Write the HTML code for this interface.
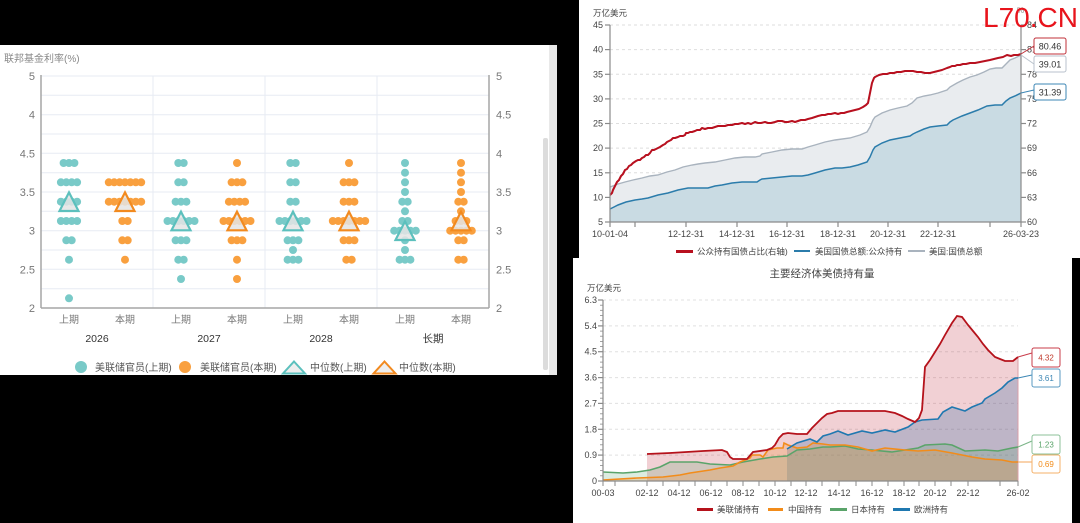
<!DOCTYPE html>
<html><head><meta charset="utf-8"><style>
html,body{margin:0;padding:0;background:#000;}
svg{display:block;}
text{font-family:"Liberation Sans","Noto Sans CJK SC",sans-serif;}
</style></head><body>
<svg width="1080" height="523" viewBox="0 0 1080 523" xmlns="http://www.w3.org/2000/svg">
<defs>
<g id="r1"><circle cx="0" cy="0" r="4"/></g>
<g id="r2"><circle cx="-2.7" cy="0" r="4"/><circle cx="2.7" cy="0" r="4"/></g>
<g id="r3"><circle cx="-5.4" cy="0" r="4"/><circle cx="0" cy="0" r="4"/><circle cx="5.4" cy="0" r="4"/></g>
<g id="r4"><circle cx="-8.1" cy="0" r="4"/><circle cx="-2.7" cy="0" r="4"/><circle cx="2.7" cy="0" r="4"/><circle cx="8.1" cy="0" r="4"/></g>
<g id="r5"><circle cx="-10.8" cy="0" r="4"/><circle cx="-5.4" cy="0" r="4"/><circle cx="0" cy="0" r="4"/><circle cx="5.4" cy="0" r="4"/><circle cx="10.8" cy="0" r="4"/></g>
<g id="r6"><circle cx="-13.5" cy="0" r="4"/><circle cx="-8.1" cy="0" r="4"/><circle cx="-2.7" cy="0" r="4"/><circle cx="2.7" cy="0" r="4"/><circle cx="8.1" cy="0" r="4"/><circle cx="13.5" cy="0" r="4"/></g>
<g id="r7"><circle cx="-16.2" cy="0" r="4"/><circle cx="-10.8" cy="0" r="4"/><circle cx="-5.4" cy="0" r="4"/><circle cx="0" cy="0" r="4"/><circle cx="5.4" cy="0" r="4"/><circle cx="10.8" cy="0" r="4"/><circle cx="16.2" cy="0" r="4"/></g>
<path id="tri" d="M0,-9.3 L9.5,9.3 L-9.5,9.3 Z"/>
</defs>

<rect x="0" y="0" width="1080" height="523" fill="#000"/>

<!-- ================= LEFT PANEL ================= -->
<rect x="0" y="45" width="557" height="330" fill="#fff"/>
<rect x="549" y="45" width="8" height="330" fill="#e9e9e9"/>
<rect x="543" y="138" width="5" height="232" rx="2" fill="#dcdcdc"/>
<text x="4" y="62" font-size="10" fill="#888">联邦基金利率(%)</text>

<!-- grid -->
<g stroke="#e7ebf3" stroke-width="1">
<line x1="41" y1="76" x2="489" y2="76"/>
<line x1="41" y1="95.3" x2="489" y2="95.3"/>
<line x1="41" y1="114.7" x2="489" y2="114.7"/>
<line x1="41" y1="134" x2="489" y2="134"/>
<line x1="41" y1="153.3" x2="489" y2="153.3"/>
<line x1="41" y1="172.7" x2="489" y2="172.7"/>
<line x1="41" y1="192" x2="489" y2="192"/>
<line x1="41" y1="211.3" x2="489" y2="211.3"/>
<line x1="41" y1="230.7" x2="489" y2="230.7"/>
<line x1="41" y1="250" x2="489" y2="250"/>
<line x1="41" y1="269.3" x2="489" y2="269.3"/>
<line x1="41" y1="288.7" x2="489" y2="288.7"/>
<line x1="153" y1="76" x2="153" y2="308"/>
<line x1="265" y1="76" x2="265" y2="308"/>
<line x1="377" y1="76" x2="377" y2="308"/>
</g>
<g stroke="#a6a6a6" stroke-width="1.5" fill="none">
<line x1="41" y1="75" x2="41" y2="308"/>
<line x1="489" y1="75" x2="489" y2="308"/>
<line x1="41" y1="308" x2="489" y2="308"/>
</g>
<g font-size="11" fill="#777" text-anchor="end">
<text x="35" y="80">5</text>
<text x="35" y="157.5">4.5</text>
<text x="35" y="234.7">3</text>
<text x="35" y="196">3.5</text>
<text x="35" y="118.7">4</text>
<text x="35" y="273.5">2.5</text>
<text x="35" y="312">2</text>
</g>
<g font-size="11" fill="#777">
<text x="496" y="80">5</text>
<text x="496" y="118.7">4.5</text>
<text x="496" y="157.5">4</text>
<text x="496" y="196">3.5</text>
<text x="496" y="234.7">3</text>
<text x="496" y="273.5">2.5</text>
<text x="496" y="312">2</text>
</g>
<g font-size="10" fill="#777" text-anchor="middle">
<text x="69" y="323">上期</text><text x="125" y="323">本期</text>
<text x="181" y="323">上期</text><text x="237" y="323">本期</text>
<text x="293" y="323">上期</text><text x="349" y="323">本期</text>
<text x="405" y="323">上期</text><text x="461" y="323">本期</text>
</g>
<g font-size="10.5" fill="#333" text-anchor="middle">
<text x="97" y="342">2026</text><text x="209" y="342">2027</text>
<text x="321" y="342">2028</text><text x="433" y="342">长期</text>
</g>

<!-- dots teal -->
<g fill="#79cac8">
<use href="#r3" x="69" y="163"/><use href="#r4" x="69" y="182.3"/><use href="#r4" x="69" y="201.7"/><use href="#r4" x="69" y="221"/><use href="#r2" x="69" y="240.3"/><use href="#r1" x="69" y="259.7"/><use href="#r1" x="69" y="298.3"/>
<use href="#r2" x="181" y="163"/><use href="#r2" x="181" y="182.3"/><use href="#r3" x="181" y="201.7"/><use href="#r6" x="181" y="221"/><use href="#r3" x="181" y="240.3"/><use href="#r2" x="181" y="259.7"/><use href="#r1" x="181" y="279"/>
<use href="#r2" x="293" y="163"/><use href="#r2" x="293" y="182.3"/><use href="#r2" x="293" y="201.7"/><use href="#r6" x="293" y="221"/><use href="#r3" x="293" y="240.3"/><use href="#r1" x="293" y="250"/><use href="#r3" x="293" y="259.7"/>
<use href="#r1" x="405" y="163"/><use href="#r1" x="405" y="172.7"/><use href="#r1" x="405" y="182.3"/><use href="#r1" x="405" y="192"/><use href="#r2" x="405" y="201.7"/><use href="#r1" x="405" y="211.3"/><use href="#r2" x="405" y="221"/><use href="#r5" x="405" y="230.7"/><use href="#r1" x="405" y="240.3"/><use href="#r1" x="405" y="250"/><use href="#r3" x="405" y="259.7"/>
</g>
<!-- dots orange -->
<g fill="#f9a03f">
<use href="#r7" x="125" y="182.3"/><use href="#r7" x="125" y="201.7"/><use href="#r2" x="125" y="221"/><use href="#r2" x="125" y="240.3"/><use href="#r1" x="125" y="259.7"/>
<use href="#r1" x="237" y="163"/><use href="#r3" x="237" y="182.3"/><use href="#r4" x="237" y="201.7"/><use href="#r6" x="237" y="221"/><use href="#r3" x="237" y="240.3"/><use href="#r1" x="237" y="259.7"/><use href="#r1" x="237" y="279"/>
<use href="#r1" x="349" y="163"/><use href="#r3" x="349" y="182.3"/><use href="#r3" x="349" y="201.7"/><use href="#r7" x="349" y="221"/><use href="#r3" x="349" y="240.3"/><use href="#r2" x="349" y="259.7"/>
<use href="#r1" x="461" y="163"/><use href="#r1" x="461" y="172.7"/><use href="#r1" x="461" y="182.3"/><use href="#r1" x="461" y="192"/><use href="#r2" x="461" y="201.7"/><use href="#r1" x="461" y="211.3"/><use href="#r3" x="461" y="221"/><use href="#r5" x="461" y="230.7"/><use href="#r2" x="461" y="240.3"/><use href="#r2" x="461" y="259.7"/>
</g>
<!-- medians -->
<g fill="#e4e4e4" fill-opacity="0.85" stroke-width="2.2" stroke-linejoin="miter">
<use href="#tri" x="69" y="201.7" stroke="#5cc0bd"/>
<use href="#tri" x="125" y="201.7" stroke="#f28a1f"/>
<use href="#tri" x="181" y="221" stroke="#5cc0bd"/>
<use href="#tri" x="237" y="221" stroke="#f28a1f"/>
<use href="#tri" x="293" y="221" stroke="#5cc0bd"/>
<use href="#tri" x="349" y="221" stroke="#f28a1f"/>
<use href="#tri" x="405" y="230.7" stroke="#5cc0bd"/>
<use href="#tri" x="461" y="221" stroke="#f28a1f"/>
</g>
<!-- legend -->
<circle cx="81" cy="367" r="6" fill="#79cac8"/>
<text x="95" y="371" font-size="10" fill="#555">美联储官员(上期)</text>
<circle cx="185" cy="367" r="6" fill="#f9a03f"/>
<text x="200" y="371" font-size="10" fill="#555">美联储官员(本期)</text>
<path d="M294,361.5 L305,373.5 L283,373.5 Z" fill="#eee" stroke="#5cc0bd" stroke-width="2"/>
<text x="310" y="371" font-size="10" fill="#555">中位数(上期)</text>
<path d="M384.5,361.5 L395.5,373.5 L373.5,373.5 Z" fill="#eee" stroke="#f28a1f" stroke-width="2"/>
<text x="399" y="371" font-size="10" fill="#555">中位数(本期)</text>

<!-- ================= TOP RIGHT PANEL ================= -->
<rect x="579" y="0" width="501" height="258" fill="#fff"/>
<text x="593" y="16" font-size="8.5" fill="#444">万亿美元</text>
<text x="1017" y="13" font-size="8" fill="#888">%</text>
<g stroke="#dedede" stroke-width="1" stroke-dasharray="3,3">
<line x1="610" y1="25" x2="1021" y2="25"/>
<line x1="610" y1="49.6" x2="1021" y2="49.6"/>
<line x1="610" y1="74.3" x2="1021" y2="74.3"/>
<line x1="610" y1="98.9" x2="1021" y2="98.9"/>
<line x1="610" y1="123.5" x2="1021" y2="123.5"/>
<line x1="610" y1="148.1" x2="1021" y2="148.1"/>
<line x1="610" y1="172.8" x2="1021" y2="172.8"/>
<line x1="610" y1="197.4" x2="1021" y2="197.4"/>
</g>
<!-- total area -->
<polygon fill="#e9ecef" points="610,187 618,184 625,182 633,180 642,178 650,176 658,175 667,172 675,170 683,167 692,165 698,164 705,163 715,162 725,160 735,158 745,157 755,157 760,156 762,154 772,152 782,150 792,149 802,149 808,147 815,145 825,142 835,140 850,138 860,135 867,132 870,127 873,120 875,117 882,113 890,110 898,108 907,106 912,103 917,98 924,96 930,95 938,93 947,90 950,87 957,83 963,80 970,77 977,75 984,72 990,69 996,68 1002,68 1006,64 1010,60 1015,58 1021,55 1021,222 610,222"/>
<polygon fill="#c9dbe3" points="610,209 614,207 618,205 626,202 635,200 642,199 648,198 658,195 668,193 678,190 688,188 698,188 708,188 715,186 722,185 732,183 742,182 750,182 757,182 760,180 762,179 772,178 782,177 792,176 802,176 808,175 815,173 825,170 835,168 842,168 850,167 858,165 867,162 870,157 873,150 875,147 882,143 890,140 900,138 910,136 913,134 917,132 924,129 930,127 938,126 947,125 950,122 953,120 962,116 970,113 978,110 987,106 995,105 1002,105 1006,101 1010,98 1015,96 1021,93 1021,222 610,222"/>
<polyline fill="none" stroke="#a9b3be" stroke-width="1.4" points="610,187 618,184 625,182 633,180 642,178 650,176 658,175 667,172 675,170 683,167 692,165 698,164 705,163 715,162 725,160 735,158 745,157 755,157 760,156 762,154 772,152 782,150 792,149 802,149 808,147 815,145 825,142 835,140 850,138 860,135 867,132 870,127 873,120 875,117 882,113 890,110 898,108 907,106 912,103 917,98 924,96 930,95 938,93 947,90 950,87 957,83 963,80 970,77 977,75 984,72 990,69 996,68 1002,68 1006,64 1010,60 1015,58 1021,55"/>
<polyline fill="none" stroke="#2b7cab" stroke-width="1.5" points="610,209 614,207 618,205 626,202 635,200 642,199 648,198 658,195 668,193 678,190 688,188 698,188 708,188 715,186 722,185 732,183 742,182 750,182 757,182 760,180 762,179 772,178 782,177 792,176 802,176 808,175 815,173 825,170 835,168 842,168 850,167 858,165 867,162 870,157 873,150 875,147 882,143 890,140 900,138 910,136 913,134 917,132 924,129 930,127 938,126 947,125 950,122 953,120 962,116 970,113 978,110 987,106 995,105 1002,105 1006,101 1010,98 1015,96 1021,93"/>
<polyline fill="none" stroke="#b8101f" stroke-width="2" stroke-linejoin="round" points="610,195 612,193 613,190 615,186 617,182 619,180 621,176 623,174 625,170 627,169 629,166 631,165 633,163 636,161 638,160 640,160 642,158 644,157 646,155 648,155 650,153 652,150 654,150 656,149 658,148 660,147 663,145 665,144 667,142 669,141 671,140 673,138 675,138 678,137 680,136 683,136 685,135 686,133 688,133 690,132 692,132 695,131 697,130 700,130 702,128 705,129 708,128 712,128 715,127 718,126 721,126 725,126 728,125 732,125 735,124 738,124 742,123 745,124 748,123 751,124 755,122 758,123 761,123 765,122 768,123 771,123 775,122 778,121 782,121 785,122 788,122 792,121 795,122 798,121 801,120 805,120 808,119 812,118 815,117 818,116 822,115 825,115 828,114 831,114 835,113 838,114 841,113 844,113 847,112 851,111 855,110 859,109 863,107 866,105 868,103 870,93 872,83 874,78 875,77 879,75 883,74 887,74 890,73 894,73 897,72 901,72 905,71 909,71 913,71 917,72 921,72 925,73 930,73 934,72 938,71 942,70 947,68 950,67 952,66 955,66 957,65 960,65 963,64 966,64 970,63 975,63 980,62 985,61 990,60 994,59 998,58 1003,57 1007,55 1011,56 1014,55 1018,55 1021,54"/>
<!-- axes -->
<g stroke="#8a8a8a" stroke-width="1.2">
<line x1="610" y1="25" x2="610" y2="222"/>
<line x1="1021" y1="25" x2="1021" y2="222"/>
<line x1="610" y1="222" x2="1021" y2="222"/>
<line x1="605" y1="25" x2="610" y2="25"/><line x1="605" y1="49.6" x2="610" y2="49.6"/><line x1="605" y1="74.3" x2="610" y2="74.3"/><line x1="605" y1="98.9" x2="610" y2="98.9"/><line x1="605" y1="123.5" x2="610" y2="123.5"/><line x1="605" y1="148.1" x2="610" y2="148.1"/><line x1="605" y1="172.8" x2="610" y2="172.8"/><line x1="605" y1="197.4" x2="610" y2="197.4"/><line x1="605" y1="222" x2="610" y2="222"/>
<line x1="1021" y1="25" x2="1026" y2="25"/><line x1="1021" y1="49.6" x2="1026" y2="49.6"/><line x1="1021" y1="74.3" x2="1026" y2="74.3"/><line x1="1021" y1="98.9" x2="1026" y2="98.9"/><line x1="1021" y1="123.5" x2="1026" y2="123.5"/><line x1="1021" y1="148.1" x2="1026" y2="148.1"/><line x1="1021" y1="172.8" x2="1026" y2="172.8"/><line x1="1021" y1="197.4" x2="1026" y2="197.4"/><line x1="1021" y1="222" x2="1026" y2="222"/>
<line x1="610" y1="222" x2="610" y2="227"/><line x1="635" y1="222" x2="635" y2="227"/><line x1="686" y1="222" x2="686" y2="227"/><line x1="737" y1="222" x2="737" y2="227"/><line x1="787" y1="222" x2="787" y2="227"/><line x1="838" y1="222" x2="838" y2="227"/><line x1="888" y1="222" x2="888" y2="227"/><line x1="938" y1="222" x2="938" y2="227"/><line x1="990" y1="222" x2="990" y2="227"/><line x1="1021" y1="222" x2="1021" y2="227"/>
</g>
<g font-size="9" fill="#444" text-anchor="end">
<text x="603" y="28">45</text><text x="603" y="52.6">40</text><text x="603" y="77.3">35</text><text x="603" y="101.9">30</text><text x="603" y="126.5">25</text><text x="603" y="151.1">20</text><text x="603" y="175.8">15</text><text x="603" y="200.4">10</text><text x="603" y="225">5</text>
</g>
<g font-size="9" fill="#444">
<text x="1027" y="28">84</text><text x="1027" y="52.6">81</text><text x="1027" y="77.3">78</text><text x="1027" y="101.9">75</text><text x="1027" y="126.5">72</text><text x="1027" y="151.1">69</text><text x="1027" y="175.8">66</text><text x="1027" y="200.4">63</text><text x="1027" y="225">60</text>
</g>
<g font-size="9" fill="#444" text-anchor="middle">
<text x="610" y="237">10-01-04</text><text x="686" y="237">12-12-31</text><text x="737" y="237">14-12-31</text><text x="787" y="237">16-12-31</text><text x="838" y="237">18-12-31</text><text x="888" y="237">20-12-31</text><text x="938" y="237">22-12-31</text><text x="1021" y="237">26-03-23</text>
</g>
<!-- end labels -->
<line x1="1021" y1="54" x2="1034" y2="46" stroke="#c0303a" stroke-width="1"/>
<line x1="1021" y1="55" x2="1034" y2="64" stroke="#b9c2cc" stroke-width="1"/>
<line x1="1021" y1="93" x2="1034" y2="90" stroke="#3d87b5" stroke-width="1"/>
<rect x="1034" y="38" width="32" height="16" rx="2" fill="#fff" stroke="#c0303a"/>
<rect x="1034" y="56" width="32" height="16" rx="2" fill="#fff" stroke="#b9c2cc"/>
<rect x="1034" y="84" width="32" height="16" rx="2" fill="#fff" stroke="#3d87b5"/>
<g font-size="9" fill="#333" text-anchor="middle">
<text x="1050" y="49.5">80.46</text><text x="1050" y="67.5">39.01</text><text x="1050" y="95.5">31.39</text>
</g>
<!-- legend -->
<rect x="676" y="250" width="17" height="3" fill="#b8101f"/>
<text x="697" y="254.5" font-size="8.5" fill="#444">公众持有国债占比(右轴)</text>
<rect x="794" y="250" width="16" height="2" fill="#2b7cab"/>
<text x="815" y="254.5" font-size="8.5" fill="#444">美国国债总额:公众持有</text>
<rect x="908" y="250" width="17" height="2" fill="#a9b3be"/>
<text x="929" y="254.5" font-size="8.5" fill="#444">美国:国债总额</text>
<!-- watermark -->
<text x="983" y="27" font-size="28" fill="#e8141c">L70.CN</text>

<!-- ================= BOTTOM RIGHT PANEL ================= -->
<rect x="573" y="258" width="499" height="265" fill="#fff"/>
<text x="822" y="277" font-size="10.5" fill="#444" text-anchor="middle">主要经济体美债持有量</text>
<text x="587" y="291" font-size="8.5" fill="#444">万亿美元</text>
<g stroke="#e0e0e0" stroke-width="1" stroke-dasharray="3,3">
<line x1="603" y1="300" x2="1018" y2="300"/>
<line x1="603" y1="325.9" x2="1018" y2="325.9"/>
<line x1="603" y1="351.7" x2="1018" y2="351.7"/>
<line x1="603" y1="377.6" x2="1018" y2="377.6"/>
<line x1="603" y1="403.4" x2="1018" y2="403.4"/>
<line x1="603" y1="429.3" x2="1018" y2="429.3"/>
<line x1="603" y1="455.1" x2="1018" y2="455.1"/>
</g>
<!-- fills -->
<polygon fill="#c0283c" fill-opacity="0.22" points="647,454 670,453 703,451 722,450 727,452 730,457 733,459 747,459 753,452 767,450 772,448 775,445 779,438 783,434 788,433 797,434 807,434 812,428 817,423 822,418 827,414 832,413 838,411 858,411 885,411 895,413 902,416 908,419 915,422 919,418 922,410 925,367 930,360 935,352 940,344 945,335 952,323 957,316 962,317 968,325 973,331 978,337 983,344 988,350 995,357 1000,359 1005,361 1013,361 1018,357 1018,481 647,481"/>
<polygon fill="#1f5f9e" fill-opacity="0.24" points="787,449 797,443 810,439 817,442 823,436 830,434 838,431 848,435 862,431 872,433 885,430 895,432 908,427 915,422 922,420 938,419 943,412 952,407 965,411 972,407 982,403 985,399 995,393 1002,388 1008,382 1015,378 1018,378 1018,481 787,481"/>
<polygon fill="#4f9e63" fill-opacity="0.2" points="603,472 623,473 637,472 650,470 660,467 670,462 680,462 697,462 710,464 730,465 743,462 760,459 773,457 787,456 797,450 810,449 823,447 830,447 845,446 858,449 872,450 892,452 905,450 918,448 925,445 945,444 952,445 965,451 985,450 998,451 1012,448 1018,447 1018,481 603,481"/>
<polygon fill="#ee8a28" fill-opacity="0.25" points="603,480 637,478 663,477 680,475 690,473 710,470 720,468 733,466 740,462 750,458 752,455 760,455 763,457 768,450 777,448 783,448 784,443 788,445 797,448 807,447 813,443 823,444 830,445 845,445 858,447 872,451 885,448 905,450 918,451 935,450 952,453 962,455 972,457 985,459 1002,460 1012,462 1018,462 1018,481 603,481"/>
<line x1="1018" y1="357" x2="1018" y2="481" stroke="#d9a0a8" stroke-width="1"/>
<!-- lines -->
<polyline fill="none" stroke="#5aa46a" stroke-width="1.6" points="603,472 623,473 637,472 650,470 660,467 670,462 680,462 697,462 710,464 730,465 743,462 760,459 773,457 787,456 797,450 810,449 823,447 830,447 845,446 858,449 872,450 892,452 905,450 918,448 925,445 945,444 952,445 965,451 985,450 998,451 1012,448 1018,447"/>
<polyline fill="none" stroke="#f28c1a" stroke-width="1.6" points="603,480 637,478 663,477 680,475 690,473 710,470 720,468 733,466 740,462 750,458 752,455 760,455 763,457 768,450 777,448 783,448 784,443 788,445 797,448 807,447 813,443 823,444 830,445 845,445 858,447 872,451 885,448 905,450 918,451 935,450 952,453 962,455 972,457 985,459 1002,460 1012,462 1018,462"/>
<polyline fill="none" stroke="#1f78b0" stroke-width="1.6" points="787,449 797,443 810,439 817,442 823,436 830,434 838,431 848,435 862,431 872,433 885,430 895,432 908,427 915,422 922,420 938,419 943,412 952,407 965,411 972,407 982,403 985,399 995,393 1002,388 1008,382 1015,378 1018,378"/>
<polyline fill="none" stroke="#b5121b" stroke-width="1.8" points="647,454 670,453 703,451 722,450 727,452 730,457 733,459 747,459 753,452 767,450 772,448 775,445 779,438 783,434 788,433 797,434 807,434 812,428 817,423 822,418 827,414 832,413 838,411 858,411 885,411 895,413 902,416 908,419 915,422 919,418 922,410 925,367 930,360 935,352 940,344 945,335 952,323 957,316 962,317 968,325 973,331 978,337 983,344 988,350 995,357 1000,359 1005,361 1013,361 1018,357"/>
<!-- axes -->
<g stroke="#8a8a8a" stroke-width="1.2">
<line x1="603" y1="300" x2="603" y2="481"/>
<line x1="603" y1="481" x2="1018" y2="481"/>
<line x1="598" y1="300" x2="603" y2="300"/><line x1="598" y1="325.9" x2="603" y2="325.9"/><line x1="598" y1="351.7" x2="603" y2="351.7"/><line x1="598" y1="377.6" x2="603" y2="377.6"/><line x1="598" y1="403.4" x2="603" y2="403.4"/><line x1="598" y1="429.3" x2="603" y2="429.3"/><line x1="598" y1="455.1" x2="603" y2="455.1"/><line x1="598" y1="481" x2="603" y2="481"/>
</g>
<g stroke="#8a8a8a" stroke-width="0.8">
<line x1="600" y1="305.2" x2="603" y2="305.2"/><line x1="600" y1="310.3" x2="603" y2="310.3"/><line x1="600" y1="315.5" x2="603" y2="315.5"/><line x1="600" y1="320.7" x2="603" y2="320.7"/>
<line x1="600" y1="331.1" x2="603" y2="331.1"/><line x1="600" y1="336.2" x2="603" y2="336.2"/><line x1="600" y1="341.4" x2="603" y2="341.4"/><line x1="600" y1="346.5" x2="603" y2="346.5"/>
<line x1="600" y1="356.9" x2="603" y2="356.9"/><line x1="600" y1="362.1" x2="603" y2="362.1"/><line x1="600" y1="367.2" x2="603" y2="367.2"/><line x1="600" y1="372.4" x2="603" y2="372.4"/>
<line x1="600" y1="382.8" x2="603" y2="382.8"/><line x1="600" y1="387.9" x2="603" y2="387.9"/><line x1="600" y1="393.1" x2="603" y2="393.1"/><line x1="600" y1="398.2" x2="603" y2="398.2"/>
<line x1="600" y1="408.6" x2="603" y2="408.6"/><line x1="600" y1="413.8" x2="603" y2="413.8"/><line x1="600" y1="418.9" x2="603" y2="418.9"/><line x1="600" y1="424.1" x2="603" y2="424.1"/>
<line x1="600" y1="434.5" x2="603" y2="434.5"/><line x1="600" y1="439.6" x2="603" y2="439.6"/><line x1="600" y1="444.8" x2="603" y2="444.8"/><line x1="600" y1="449.9" x2="603" y2="449.9"/>
<line x1="600" y1="460.3" x2="603" y2="460.3"/><line x1="600" y1="465.5" x2="603" y2="465.5"/><line x1="600" y1="470.6" x2="603" y2="470.6"/><line x1="600" y1="475.8" x2="603" y2="475.8"/>
</g>
<g stroke="#8a8a8a" stroke-width="1">
<line x1="603" y1="481" x2="603" y2="486"/><line x1="615" y1="481" x2="615" y2="486"/><line x1="647" y1="481" x2="647" y2="486"/><line x1="663" y1="481" x2="663" y2="486"/><line x1="679" y1="481" x2="679" y2="486"/><line x1="695" y1="481" x2="695" y2="486"/><line x1="711" y1="481" x2="711" y2="486"/><line x1="727" y1="481" x2="727" y2="486"/><line x1="743" y1="481" x2="743" y2="486"/><line x1="759" y1="481" x2="759" y2="486"/><line x1="775" y1="481" x2="775" y2="486"/><line x1="791" y1="481" x2="791" y2="486"/><line x1="806" y1="481" x2="806" y2="486"/><line x1="822" y1="481" x2="822" y2="486"/><line x1="839" y1="481" x2="839" y2="486"/><line x1="856" y1="481" x2="856" y2="486"/><line x1="872" y1="481" x2="872" y2="486"/><line x1="888" y1="481" x2="888" y2="486"/><line x1="904" y1="481" x2="904" y2="486"/><line x1="919" y1="481" x2="919" y2="486"/><line x1="935" y1="481" x2="935" y2="486"/><line x1="951" y1="481" x2="951" y2="486"/><line x1="968" y1="481" x2="968" y2="486"/><line x1="1000" y1="481" x2="1000" y2="486"/><line x1="1018" y1="481" x2="1018" y2="486"/>
</g>
<g font-size="9" fill="#444" text-anchor="end">
<text x="597" y="303">6.3</text><text x="597" y="328.9">5.4</text><text x="597" y="354.7">4.5</text><text x="597" y="380.6">3.6</text><text x="597" y="406.4">2.7</text><text x="597" y="432.3">1.8</text><text x="597" y="458.1">0.9</text><text x="597" y="484">0</text>
</g>
<g font-size="9" fill="#444" text-anchor="middle">
<text x="603" y="496">00-03</text><text x="647" y="496">02-12</text><text x="679" y="496">04-12</text><text x="711" y="496">06-12</text><text x="743" y="496">08-12</text><text x="775" y="496">10-12</text><text x="806" y="496">12-12</text><text x="839" y="496">14-12</text><text x="872" y="496">16-12</text><text x="904" y="496">18-12</text><text x="935" y="496">20-12</text><text x="968" y="496">22-12</text><text x="1018" y="496">26-02</text>
</g>
<!-- end labels -->
<line x1="1018" y1="357" x2="1032" y2="353" stroke="#c83c4a" stroke-width="1"/>
<line x1="1018" y1="378" x2="1032" y2="375" stroke="#3d87b5" stroke-width="1"/>
<line x1="1018" y1="447" x2="1032" y2="441" stroke="#7ab487" stroke-width="1"/>
<line x1="1018" y1="462" x2="1032" y2="462" stroke="#f3a65a" stroke-width="1"/>
<rect x="1032" y="348" width="28" height="19" rx="2" fill="#fff" stroke="#c83c4a"/>
<rect x="1032" y="369" width="28" height="18" rx="2" fill="#fff" stroke="#5a9ac2"/>
<rect x="1032" y="435" width="28" height="19" rx="2" fill="#fff" stroke="#8cc29a"/>
<rect x="1032" y="455" width="28" height="18" rx="2" fill="#fff" stroke="#f5b06a"/>
<g font-size="8" text-anchor="middle">
<text x="1046" y="360.5" fill="#c0392b">4.32</text>
<text x="1046" y="381" fill="#3d87b5">3.61</text>
<text x="1046" y="447.5" fill="#5aa46a">1.23</text>
<text x="1046" y="467" fill="#f28c1a">0.69</text>
</g>
<!-- legend -->
<rect x="697" y="508" width="16" height="3" fill="#b5121b"/>
<text x="717" y="512.5" font-size="8.5" fill="#444">美联储持有</text>
<rect x="768" y="508" width="15" height="3" fill="#f28c1a"/>
<text x="788" y="512.5" font-size="8.5" fill="#444">中国持有</text>
<rect x="830" y="508" width="17" height="3" fill="#5aa46a"/>
<text x="851" y="512.5" font-size="8.5" fill="#444">日本持有</text>
<rect x="893" y="508" width="17" height="3" fill="#1f78b0"/>
<text x="914" y="512.5" font-size="8.5" fill="#444">欧洲持有</text>
</svg>
</body></html>
